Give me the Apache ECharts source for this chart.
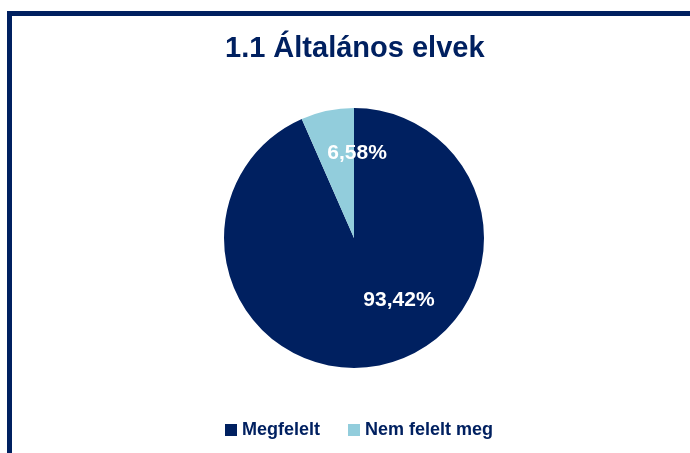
<!DOCTYPE html>
<html>
<head>
<meta charset="utf-8">
<script src="https://cdn.jsdelivr.net/npm/echarts@6/dist/echarts.min.js"></script>
<style>
	html, body {
		margin: 0;
		padding: 0;
		background: #fff;
		overflow: hidden;
	}
	.frame {
		position: absolute;
		left: 7px;
		top: 11px;
		width: 700px;
		height: 460px;
		border-left: 5px solid #002060;
		border-top: 5px solid #002060;
	}
	#main {
		position: absolute;
		left: 0;
		top: 0;
		width: 690px;
		height: 453px;
	}
</style>
</head>
<body>
<div class="frame"></div>
<div id="main"></div>
<script>
const titleText = "1.1 Általános elvek";
const categories = ["Megfelelt", "Nem felelt meg"];
const values = [93.42, 6.58];
const colors = ["#002060", "#92CDDC"];

let myChart = echarts.init(document.getElementById("main"));
let option = {
	title: {
		text: titleText,
		left: 220,
		top: 29,
		textStyle: {
			fontFamily: "Liberation Sans",
			fontSize: 29,
			fontWeight: "bold",
			color: "#002060",
		},
	},
	legend: {
		bottom: 9,
		left: 220,
		itemWidth: 12,
		itemHeight: 12,
		itemGap: 28,
		icon: "rect",
		textStyle: {
			fontFamily: "Liberation Sans",
			fontSize: 18,
			fontWeight: "bold",
			color: "#002060",
		},
		data: categories,
	},
	series: [
		{
			type: "pie",
			center: [354, 238],
			radius: [0, 130],
			startAngle: 90,
			clockwise: true,
			animation: false,
			data: categories.map((name, i) => ({
				name: name,
				value: values[i],
				itemStyle: { color: colors[i] },
			})),
			label: {
				position: "inner",
				color: "#fff",
				fontFamily: "Liberation Sans",
				fontSize: 21,
				fontWeight: "bold",
				formatter: (p) => p.value.toFixed(2).replace(".", ",") + "%",
			},
			labelLayout: function (params) {
				// Excel puts the labels a bit off the mid-radius point
				if (params.dataIndex === 0) {
					return { dx: 31, dy: -4 };
				}
				return { dx: 17, dy: -18 };
			},
			labelLine: { show: false },
			emphasis: { disabled: true },
		},
	],
};
myChart.setOption(option);
</script>
</body>
</html>
